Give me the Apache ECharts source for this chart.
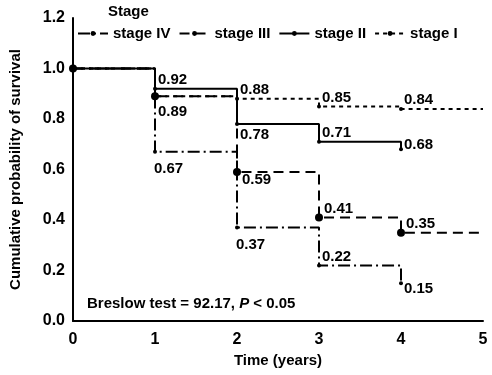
<!DOCTYPE html>
<html>
<head>
<meta charset="utf-8">
<script src="https://cdn.jsdelivr.net/npm/echarts@6/dist/echarts.min.js"></script>
<style>
  html, body { margin: 0; padding: 0; background: #fff; }
  #chart { width: 492px; height: 375px; }
</style>
</head>
<body>
<div id="chart"></div>
<script>
// survival at each year (Kaplan-Meier steps)
const years = [0, 1, 2, 3, 4, 5];
const stageI = [1.0, 0.89, 0.88, 0.85, 0.84, 0.84];
const stageII = [1.0, 0.92, 0.78, 0.71, 0.68];
const stageIII = [1.0, 0.89, 0.59, 0.41, 0.35, 0.35];
const stageIV = [1.0, 0.67, 0.37, 0.22, 0.15];
const yTicks = [0.0, 0.2, 0.4, 0.6, 0.8, 1.0, 1.2];
const xTicks = [0, 1, 2, 3, 4, 5];

const FONT = 'Liberation Sans';
const UP = [0, -9], DOWN = [0, 11];

// where each step label sits relative to its point (null = no label)
function build(vals, places) {
    return vals.map((v, i) => {
        const last = i === vals.length - 1 && years[i] === 5;
        const item = { value: [years[i], v] };
        if (last) item.symbol = 'none';
        if (places[i]) {
            item.label = { show: true, position: 'right', distance: 1, offset: places[i] };
        }
        return item;
    });
}

function stepSeries(name, vals, places, lineType, symSize) {
    return {
        name: name,
        type: 'line',
        step: 'end',
        data: build(vals, places),
        symbol: 'circle',
        symbolSize: symSize,
        showAllSymbol: true,
        lineStyle: { color: '#000', width: 2, type: lineType },
        itemStyle: { color: '#000' },
        label: {
            show: false,
            color: '#000',
            fontFamily: FONT,
            fontWeight: 'bold',
            fontSize: 15,
            formatter: p => p.value[1].toFixed(2)
        },
        emphasis: { disabled: true },
        animation: false
    };
}

const chart = echarts.init(document.getElementById('chart'));
chart.setOption({
    animation: false,
    grid: { left: 70, right: 9, top: 18, bottom: 54 },
    legend: {
        data: ['stage IV', 'stage III', 'stage II', 'stage I'],
        left: 72,
        top: 21,
        itemWidth: 30,
        itemHeight: 6,
        itemGap: 8,
        textStyle: { fontFamily: FONT, fontWeight: 'bold', fontSize: 15, color: '#000' }
    },
    xAxis: {
        type: 'value',
        min: 0,
        max: 5,
        interval: 1,
        name: 'Time (years)',
        nameLocation: 'middle',
        nameGap: 30,
        nameTextStyle: { fontFamily: FONT, fontWeight: 'bold', fontSize: 15, color: '#000' },
        axisLine: { lineStyle: { color: '#000', width: 2 } },
        axisTick: { show: false },
        splitLine: { show: false },
        axisLabel: {
            fontFamily: FONT, fontWeight: 'bold', fontSize: 16, color: '#000', margin: 11,
            formatter: v => xTicks.includes(v) ? String(v) : ''
        }
    },
    yAxis: {
        type: 'value',
        min: 0,
        max: 1.2,
        interval: 0.2,
        name: 'Cumulative probability of survival',
        nameLocation: 'middle',
        nameGap: 50,
        nameTextStyle: { fontFamily: FONT, fontWeight: 'bold', fontSize: 15, color: '#000' },
        axisLine: { show: true, lineStyle: { color: '#000', width: 2 } },
        axisTick: { show: false },
        splitLine: { show: false },
        axisLabel: {
            fontFamily: FONT, fontWeight: 'bold', fontSize: 16, color: '#000', margin: 8,
            formatter: v => yTicks.some(t => Math.abs(t - v) < 1e-9) ? v.toFixed(1) : ''
        }
    },
    graphic: [
        {
            type: 'text', left: 108, top: 4,
            style: { text: 'Stage', font: 'bold 15px "Liberation Sans"', fill: '#000' }
        },
        {
            type: 'text', left: 87, top: 296,
            style: {
                text: '{n|Breslow test = 92.17, }{i|P}{n| < 0.05}',
                rich: {
                    n: { fontFamily: FONT, fontWeight: 'bold', fontSize: 15, fill: '#000' },
                    i: { fontFamily: FONT, fontWeight: 'bold', fontSize: 15, fontStyle: 'italic', fill: '#000' }
                }
            }
        }
    ],
    series: [
        stepSeries('stage IV', stageIV, [null, [-4, 17], [-4, 17], UP, [0, 6]], [12, 4, 2, 4], 4),
        stepSeries('stage III', stageIII, [null, null, [0, 8], UP, UP, null], [10, 6], 8),
        stepSeries('stage II', stageII, [null, UP, DOWN, UP, [0, -4]], 'solid', 4),
        stepSeries('stage I', stageI, [null, [0, 16], UP, UP, UP, null], [4, 4], 4)
    ]
});
</script>
</body>
</html>
